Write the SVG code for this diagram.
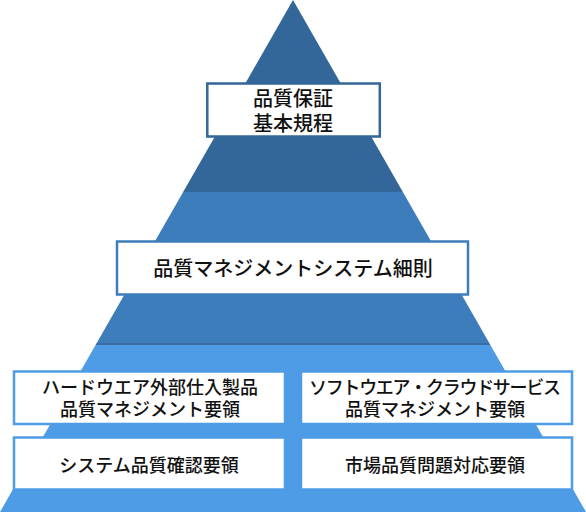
<svg xmlns="http://www.w3.org/2000/svg" width="586" height="512" viewBox="0 0 586 512">
  <defs>
    <clipPath id="tri">
      <polygon points="293,0 586,512 0,512"/>
    </clipPath>
    <style>
      .box { fill: #ffffff; stroke-width: 2.5; }
      .t { font-family: "Noto Sans CJK JP", "Noto Sans CJK SC", sans-serif; font-weight: 500; fill: #111111; text-anchor: middle; }
      .big { font-size: 20px; }
      .small { font-size: 18px; }
    </style>
  </defs>
  <rect width="586" height="512" fill="#ffffff"/>
  <g id="pyramid" clip-path="url(#tri)">
    <rect x="0" y="0" width="586" height="192" fill="#336699"/>
    <rect x="0" y="192" width="586" height="151" fill="#3e7dbb"/>
    <rect x="0" y="343" width="586" height="2" fill="#3a6ca6"/>
    <rect x="0" y="345" width="586" height="167" fill="#4e9be6"/>
  </g>
  <g id="connectors"/>
  <g id="node-qa-rules">
    <rect class="box" x="207.3" y="83.5" width="172.5" height="53" stroke="#336699"/>
    <text class="t big" x="293" y="105.5">品質保証</text>
    <text class="t big" x="293" y="130.5">基本規程</text>
  </g>
  <g id="node-qms-rules">
    <rect class="box" x="117" y="241.5" width="351" height="53" stroke="#3e7dbb"/>
    <text class="t big" x="293" y="276">品質マネジメントシステム細則</text>
  </g>
  <g id="node-hw">
    <rect class="box" x="14" y="371.5" width="271" height="52.5" stroke="#4e9be6"/>
    <text class="t small" x="150" y="394">ハードウエア外部仕入製品</text>
    <text class="t small" x="150" y="416">品質マネジメント要領</text>
  </g>
  <g id="node-sw">
    <rect class="box" x="301" y="371.5" width="271" height="52.5" stroke="#4e9be6"/>
    <text class="t small" x="435" y="394" textLength="252">ソフトウエア・クラウドサービス</text>
    <text class="t small" x="435" y="416">品質マネジメント要領</text>
  </g>
  <g id="node-sys">
    <rect class="box" x="14" y="437.5" width="271" height="52" stroke="#4e9be6"/>
    <text class="t small" x="149" y="472">システム品質確認要領</text>
  </g>
  <g id="node-market">
    <rect class="box" x="301" y="437.5" width="271" height="52" stroke="#4e9be6"/>
    <text class="t small" x="435" y="472">市場品質問題対応要領</text>
  </g>
</svg>
